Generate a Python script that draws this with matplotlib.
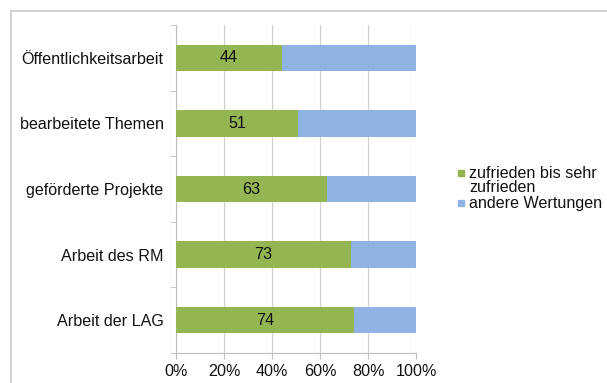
import matplotlib.pyplot as plt
import numpy as np
from matplotlib.lines import Line2D
from matplotlib.patches import Rectangle

plt.rcParams['font.family'] = ['Liberation Sans', 'DejaVu Sans']

categories = ['Öffentlichkeitsarbeit', 'bearbeitete Themen', 'geförderte Projekte',
              'Arbeit des RM', 'Arbeit der LAG']
zufrieden = np.array([44, 51, 63, 73, 74])
andere = 100 - zufrieden
series = ['zufrieden bis sehr\nzufrieden', 'andere Wertungen']

green = '#93B552'
blue = '#8FB4E3'
grey = '#BFBFBF'
fs = 11.6
W, H = 607, 383

fig = plt.figure(figsize=(W / 100, H / 100), dpi=100)
ax = fig.add_axes([176 / W, 1 - 353 / H, 240 / W, 328 / H])

# outer chart frame (left and top edges only)
fig.add_artist(Line2D([11 / W, 11 / W], [0, 1 - 11 / H], color='#C8C8C8', lw=1.2,
                      transform=fig.transFigure))
fig.add_artist(Line2D([11 / W, 1], [1 - 11 / H, 1 - 11 / H], color='#C8C8C8', lw=1.2,
                      transform=fig.transFigure))

y = np.arange(len(categories))
h = 0.4
ax.barh(y, zufrieden, h, color=green, zorder=3)
ax.barh(y, andere, h, left=zufrieden, color=blue, zorder=3)
for yi, v in zip(y, zufrieden):
    ax.text(v / 2, yi, str(v), ha='center', va='center', fontsize=fs, color='#111111', zorder=4)

ax.set_xlim(0, 100)
ax.set_ylim(len(categories) - 0.5, -0.5)
ax.set_xticks(np.arange(0, 101, 20))
ax.set_xticklabels([f'{t}%' for t in range(0, 101, 20)], fontsize=fs, color='#111111')
ax.set_yticks(y)
ax.set_yticklabels(categories, fontsize=fs, color='#111111')
ax.set_yticks(np.arange(-0.5, len(categories)), minor=True)
ax.tick_params(axis='y', which='major', length=0, pad=9)
ax.tick_params(axis='y', which='minor', length=4, color=grey, direction='out')
ax.tick_params(axis='x', length=4, color=grey, direction='out', pad=4)
ax.grid(axis='x', color='#D0D0D0', lw=0.9, zorder=0)
for s in ['top', 'right']:
    ax.spines[s].set_visible(False)
for s in ['left', 'bottom']:
    ax.spines[s].set_color(grey)

# legend: square marker aligned with the first line of each entry
ypos = [173, 203]
for label, col, yp in zip(series, [green, blue], ypos):
    fig.add_artist(Rectangle((458 / W, 1 - (yp + 3) / H), 6 / W, 6 / H, color=col,
                             transform=fig.transFigure))
    fig.text(469 / W, 1 - (yp - 7.5) / H, label, ha='left', va='top', fontsize=fs,
             color='#111111', linespacing=0.95)

fig.savefig('out.png', dpi=100)
